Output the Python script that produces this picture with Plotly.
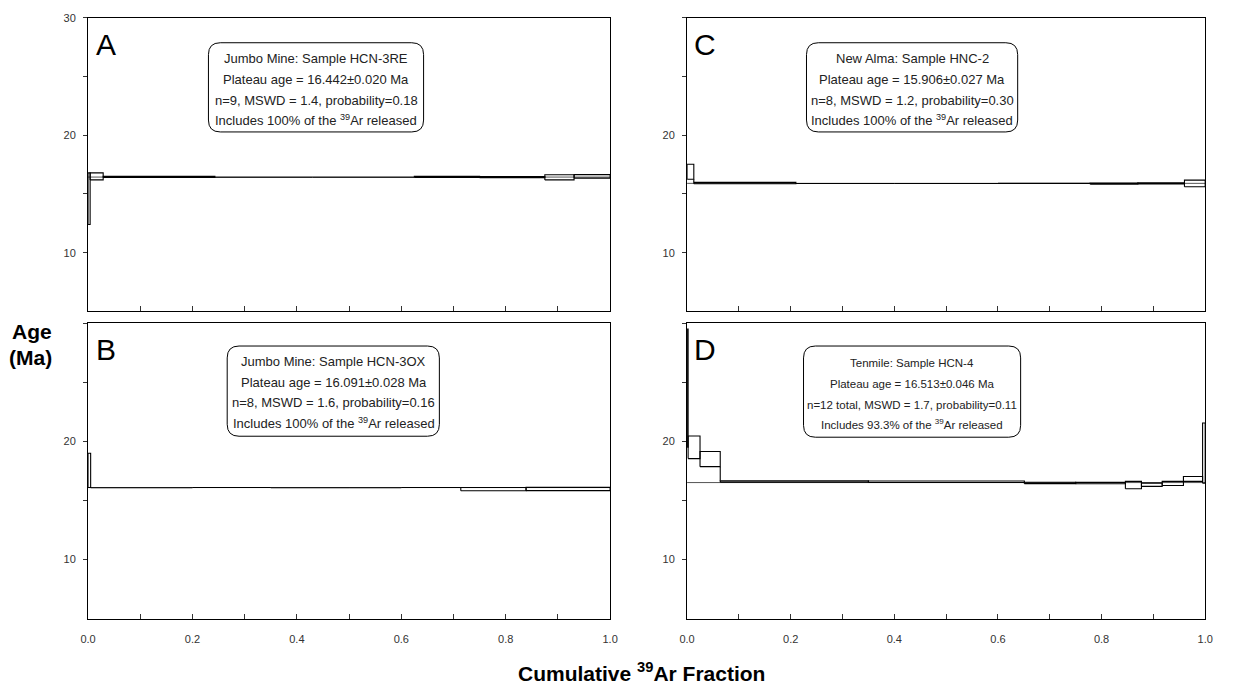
import plotly.graph_objects as go

W, H = 1235, 692
PAGE_MARGIN = 8                      # browser default body margin
WF, HF = W - 2 * PAGE_MARGIN, H - 2 * PAGE_MARGIN
FONT = "Liberation Sans, Arial, sans-serif"

# ---------------- data ----------------
# cumulative 39Ar fraction boundaries, apparent ages (Ma), half heights of the step boxes
A_frac = [0.0, 0.004, 0.029, 0.243, 0.43, 0.625, 0.75, 0.875, 0.931, 1.0]
A_age = [14.6, 16.50, 16.45, 16.44, 16.43, 16.45, 16.44, 16.42, 16.50]
A_err = [2.2, 0.30, 0.05, 0.01, 0.01, 0.05, 0.05, 0.22, 0.15]
A_plateau = 16.442

B_frac = [0.0, 0.005, 0.2, 0.35, 0.5, 0.6, 0.714, 0.839, 1.0]
B_age = [17.55, 16.09, 16.10, 16.09, 16.08, 16.10, 15.96, 15.97]
B_err = [1.45, 0.01, 0.01, 0.01, 0.01, 0.01, 0.14, 0.14]
B_plateau = 16.091

C_frac = [0.0, 0.013, 0.21, 0.4, 0.6, 0.778, 0.87, 0.96, 1.0]
C_age = [16.90, 15.93, 15.90, 15.90, 15.91, 15.89, 15.90, 15.90]
C_err = [0.64, 0.06, 0.01, 0.01, 0.01, 0.05, 0.05, 0.28]
C_plateau = 15.906

D_frac = [0.0, 0.002, 0.025, 0.064, 0.35, 0.651, 0.75, 0.846, 0.877, 0.917, 0.958, 0.995, 1.0]
D_age = [24.5, 19.5, 18.5, 16.60, 16.58, 16.48, 16.47, 16.30, 16.33, 16.44, 16.82, 19.0]
D_err = [5.0, 0.96, 0.64, 0.06, 0.06, 0.06, 0.06, 0.31, 0.14, 0.17, 0.21, 2.55]
D_plateau = 16.513

panel_text = {
    "A": ["Jumbo Mine: Sample HCN-3RE", "Plateau age = 16.442\u00b10.020 Ma",
          "n=9, MSWD = 1.4, probability=0.18", "Includes 100% of the <sup>39</sup>Ar released"],
    "B": ["Jumbo Mine: Sample HCN-3OX", "Plateau age = 16.091\u00b10.028 Ma",
          "n=8, MSWD = 1.6, probability=0.16", "Includes 100% of the <sup>39</sup>Ar released"],
    "C": ["New Alma: Sample HNC-2", "Plateau age = 15.906\u00b10.027 Ma",
          "n=8, MSWD = 1.2, probability=0.30", "Includes 100% of the <sup>39</sup>Ar released"],
    "D": ["Tenmile: Sample HCN-4", "Plateau age = 16.513\u00b10.046 Ma",
          "n=12 total, MSWD = 1.7, probability=0.11", "Includes 93.3% of the <sup>39</sup>Ar released"],
}
x_major = [0.0, 0.2, 0.4, 0.6, 0.8, 1.0]
x_minor = [0.1, 0.3, 0.5, 0.7, 0.9]
y_major_top = [10, 20, 30]
y_major = [10, 20]
y_minor = [15, 25, 30]

# ---------------- layout helpers (page pixel -> paper) ----------------
def px(x):
    return min(1.0, max(0.0, (x - PAGE_MARGIN) / WF))

def py(y):
    return min(1.0, max(0.0, 1 - (y - PAGE_MARGIN) / HF))

panels = {
    "A": dict(ax="", xd=(81, 610), yd=(12, 308), data=(A_frac, A_age, A_err, A_plateau), bottom=False, top30=True,
              box=(203, 421, 37, 127), cx=312, lines=(53, 74, 95, 115), letter=(99, 39), fs=13),
    "B": dict(ax="2", xd=(81, 610), yd=(320, 618), data=(B_frac, B_age, B_err, B_plateau), bottom=True, top30=False,
              box=(222, 437, 343, 434), cx=330, lines=(359, 380, 400, 421), letter=(99, 347), fs=13),
    "C": dict(ax="3", xd=(688, 1213), yd=(12, 308), data=(C_frac, C_age, C_err, C_plateau), bottom=False, top30=False,
              box=(809, 1023, 37, 127), cx=916, lines=(53, 74, 95, 115), letter=(706, 39), fs=13),
    "D": dict(ax="4", xd=(688, 1213), yd=(320, 618), data=(D_frac, D_age, D_err, D_plateau), bottom=True, top30=False,
              box=(806, 1026, 343, 435), cx=916, lines=(360, 381, 402, 422), letter=(706, 347), fs=11.5),
}

fig = go.Figure()
shapes = []
annotations = []
layout_axes = {}

def rounded_path(x0, x1, y0, y1, r=12):
    X0, X1 = px(x0), px(x1)
    Y0, Y1 = py(y0), py(y1)  # Y0 top, Y1 bottom
    rx, ry = r / WF, r / HF
    return (f"M {X0+rx},{Y0} L {X1-rx},{Y0} Q {X1},{Y0} {X1},{Y0-ry} "
            f"L {X1},{Y1+ry} Q {X1},{Y1} {X1-rx},{Y1} L {X0+rx},{Y1} "
            f"Q {X0},{Y1} {X0},{Y1+ry} L {X0},{Y0-ry} Q {X0},{Y0} {X0+rx},{Y0} Z")

tickfont = dict(family=FONT, size=11, color="#333")

for name, p in panels.items():
    frac, age, err, plateau = p["data"]
    xa = "x" + p["ax"]
    ya = "y" + p["ax"]
    # plateau line
    fig.add_trace(go.Scatter(x=[0, 1], y=[plateau, plateau], mode="lines",
                             line=dict(color="#555555", width=1), xaxis=xa, yaxis=ya,
                             showlegend=False, hoverinfo="skip"))
    xs, ys = [], []
    for i in range(len(age)):
        f0, f1 = frac[i], frac[i + 1]
        lo, hi = age[i] - err[i], age[i] + err[i]
        xs += [f0, f1, f1, f0, f0, None]
        ys += [lo, lo, hi, hi, lo, None]
        if i + 1 < len(age):
            lo2, hi2 = age[i + 1] - err[i + 1], age[i + 1] + err[i + 1]
            if lo2 > hi:
                xs += [f1, f1, None]
                ys += [hi, lo2, None]
            elif hi2 < lo:
                xs += [f1, f1, None]
                ys += [hi2, lo, None]
    fig.add_trace(go.Scatter(x=xs, y=ys, mode="lines", line=dict(color="black", width=1.1),
                             xaxis=xa, yaxis=ya, showlegend=False, hoverinfo="skip"))

    xkey = "xaxis" + p["ax"]
    ykey = "yaxis" + p["ax"]
    layout_axes[xkey] = dict(
        domain=[px(p["xd"][0]), px(p["xd"][1])], anchor=ya, range=[0, 1],
        showline=True, mirror=True, linecolor="black", linewidth=1, showgrid=False, zeroline=False,
        tickvals=x_major, ticktext=[f"{v:.1f}" for v in x_major], showticklabels=p["bottom"],
        ticks="inside", ticklen=5, tickcolor="#333", tickwidth=1,
        minor=dict(tickvals=x_minor, ticks="inside", ticklen=5, tickcolor="#333", tickwidth=1, showgrid=False),
        tickfont=tickfont, ticklabelstandoff=10, ticklabeloverflow="allow",
    )
    yv = y_major_top if p["top30"] else y_major
    layout_axes[ykey] = dict(
        domain=[py(p["yd"][1]), py(p["yd"][0])], anchor=xa, range=[5, 30],
        showline=True, mirror=True, linecolor="black", linewidth=1, showgrid=False, zeroline=False,
        tickvals=yv, ticktext=[str(v) for v in yv],
        ticks="outside", ticklen=4, tickcolor="#333", tickwidth=1,
        minor=dict(tickvals=y_minor, ticks="outside", ticklen=4, tickcolor="#333", tickwidth=1, showgrid=False),
        tickfont=tickfont, ticklabelstandoff=5, ticklabeloverflow="allow",
    )
    bx0, bx1, by0, by1 = p["box"]
    shapes.append(dict(type="path", path=rounded_path(bx0, bx1, by0, by1), xref="paper", yref="paper",
                       line=dict(color="black", width=1), fillcolor="rgba(255,255,255,0)", layer="above"))
    for txt, ly in zip(panel_text[name], p["lines"]):
        annotations.append(dict(x=px(p["cx"]), y=py(ly), xref="paper", yref="paper", text=txt,
                                showarrow=False, xanchor="center", yanchor="middle",
                                font=dict(family=FONT, size=p["fs"], color="#222")))
    annotations.append(dict(x=px(p["letter"][0]), y=py(p["letter"][1]), xref="paper", yref="paper",
                            text=name, showarrow=False, xanchor="center", yanchor="middle",
                            font=dict(family=FONT, size=30, color="black")))

annotations.append(dict(x=px(24), y=py(328), xref="paper", yref="paper", text="<b>Age</b>",
                        showarrow=False, xanchor="center", yanchor="middle",
                        font=dict(family=FONT, size=21, color="black")))
annotations.append(dict(x=px(23), y=py(355), xref="paper", yref="paper", text="<b>(Ma)</b>",
                        showarrow=False, xanchor="center", yanchor="middle",
                        font=dict(family=FONT, size=21, color="black")))
annotations.append(dict(x=px(642), y=py(672), xref="paper", yref="paper",
                        text="<b>Cumulative <sup>39</sup>Ar Fraction</b>",
                        showarrow=False, xanchor="center", yanchor="middle",
                        font=dict(family=FONT, size=21, color="black")))

fig.update_layout(width=WF, height=HF, margin=dict(l=0, r=0, t=0, b=0),
                  paper_bgcolor="white", plot_bgcolor="white",
                  shapes=shapes, annotations=annotations, **layout_axes)

fig.write_html("out.html")
